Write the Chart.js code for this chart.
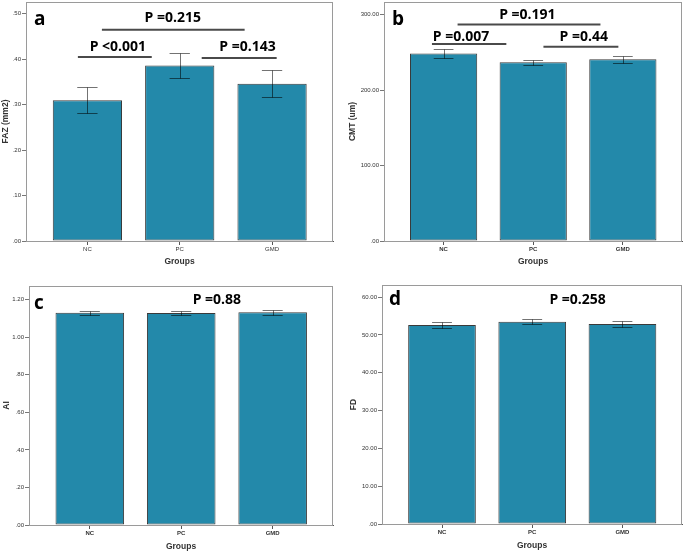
<!DOCTYPE html>
<html>
<head>
<meta charset="utf-8">
<script src="https://cdn.jsdelivr.net/npm/chart.js@4/dist/chart.umd.min.js"></script>
<style>
  body { margin: 0; background: #fff; }
  .panel { position: absolute; }
</style>
</head>
<body>
<div class="panel" style="left:0;top:0"><canvas id="chartA" width="340" height="270"></canvas></div>
<div class="panel" style="left:340px;top:0"><canvas id="chartB" width="345" height="270"></canvas></div>
<div class="panel" style="left:0;top:270px"><canvas id="chartC" width="340" height="283"></canvas></div>
<div class="panel" style="left:340px;top:270px"><canvas id="chartD" width="345" height="283"></canvas></div>
<script>
// groups and values (mean, error bar half-length)
const groups = ["NC", "PC", "GMD"];

const fazMean = [0.310, 0.386, 0.346];
const fazErr = [0.028, 0.027, 0.030];
const cmtMean = [248.6, 236.7, 240.7];
const cmtErr = [6.4, 3.8, 4.7];
const aiMean = [1.131, 1.129, 1.133];
const aiErr = [0.011, 0.010, 0.012];
const fdMean = [52.6, 53.5, 52.9];
const fdErr = [0.75, 0.70, 0.80];

const fazTicks = [0, 0.1, 0.2, 0.3, 0.4, 0.5];
const cmtTicks = [0, 100, 200, 300];
const aiTicks = [0, 0.2, 0.4, 0.6, 0.8, 1.0, 1.2];
const fdTicks = [0, 10, 20, 30, 40, 50, 60];

const fazP = ["P <0.001", "P =0.215", "P =0.143"];
const cmtP = ["P =0.007", "P =0.191", "P =0.44"];
const aiP = ["P =0.88"];
const fdP = ["P =0.258"];

const barColor = "#2389aa";

// SPSS style labels: .50, 1.00, 300.00
function spss(v) {
  const s = v.toFixed(2);
  return s.startsWith("0") ? s.slice(1) : s;
}

const panelPlugin = {
  id: "panelExtras",
  beforeDatasetsDraw(chart, args, opts) {
    const a = chart.chartArea, ctx = chart.ctx;
    ctx.save();
    ctx.strokeStyle = "#9a9a9a";
    ctx.lineWidth = 1;
    ctx.strokeRect(Math.round(a.left) + 0.5, Math.round(a.top) + 0.5,
      Math.round(a.right - a.left) - 1, Math.round(a.bottom - a.top));
    ctx.restore();
  },
  afterDatasetsDraw(chart, args, opts) {
    const ctx = chart.ctx, xs = chart.scales.x, ys = chart.scales.y, a = chart.chartArea;
    ctx.save();
    // error bars
    ctx.strokeStyle = "rgba(0,0,0,0.55)";
    ctx.lineWidth = 1;
    opts.mean.forEach((m, i) => {
      const x = Math.round(xs.getPixelForValue(i)) + 0.5;
      const y1 = Math.round(ys.getPixelForValue(m + opts.err[i])) + 0.5;
      const y2 = Math.round(ys.getPixelForValue(m - opts.err[i])) + 0.5;
      const cl = xs.getPixelForValue(i - 0.11), cr = xs.getPixelForValue(i + 0.11);
      ctx.beginPath();
      ctx.moveTo(x, y1); ctx.lineTo(x, y2);
      ctx.moveTo(cl, y1); ctx.lineTo(cr, y1);
      ctx.moveTo(cl, y2); ctx.lineTo(cr, y2);
      ctx.stroke();
    });
    // comparison brackets
    ctx.strokeStyle = "#4a4a4a";
    ctx.lineWidth = 2;
    ctx.fillStyle = "#000";
    ctx.font = "bold 14px 'Open Sans'";
    ctx.textAlign = "center";
    ctx.textBaseline = "middle";
    opts.marks.forEach((b, i) => {
      if (b.x1 !== undefined) {
        const y = ys.getPixelForValue(b.y);
        ctx.beginPath();
        ctx.moveTo(xs.getPixelForValue(b.x1), y);
        ctx.lineTo(xs.getPixelForValue(b.x2), y);
        ctx.stroke();
      }
      ctx.fillText(opts.pLabels[i], xs.getPixelForValue(b.tx), ys.getPixelForValue(b.ty));
    });
    // panel letter
    ctx.textAlign = "left";
    ctx.textBaseline = "alphabetic";
    ctx.font = "bold 19px 'Open Sans'";
    ctx.fillText(opts.letter, a.left + opts.letterDx, a.top + opts.letterDy);
    ctx.restore();
  }
};

function makePanel(id, p) {
  return new Chart(document.getElementById(id), {
    type: "bar",
    data: {
      datasets: [{
        data: p.mean.map((v, i) => ({ x: i, y: v })),
        backgroundColor: barColor,
        borderColor: "#3a3a3a",
        borderWidth: 1,
        borderSkipped: false,
        barPercentage: 0.75,
        categoryPercentage: 1
      }]
    },
    plugins: [panelPlugin],
    options: {
      responsive: false,
      animation: false,
      layout: { padding: { top: p.padTop, right: p.padRight, left: 0, bottom: 0 } },
      plugins: {
        legend: { display: false },
        tooltip: { enabled: false },
        panelExtras: {
          mean: p.mean, err: p.err, pLabels: p.pLabels, marks: p.marks,
          letter: p.letter, letterDx: p.letterDx, letterDy: p.letterDy
        }
      },
      scales: {
        x: {
          type: "linear",
          offset: false,
          min: -0.665,
          max: 2.66,
          afterBuildTicks: s => { s.ticks = groups.map((g, i) => ({ value: i })); },
          afterFit: s => { s.height = p.xHeight; s.paddingLeft = 0; s.paddingRight = 0; },
          grid: {
            offset: false,
            drawOnChartArea: false,
            tickLength: 4,
            color: c => (c.tick && Number.isInteger(c.tick.value)) ? "#555" : "rgba(0,0,0,0)"
          },
          border: { color: "#555" },
          ticks: {
            padding: 1,
            autoSkip: false,
            maxRotation: 0,
            color: "#333",
            font: { family: "'Liberation Sans'", size: 6, weight: p.xBold ? "bold" : "normal" },
            callback: v => groups[v]
          },
          title: {
            display: true,
            text: "Groups",
            color: "#333",
            padding: { top: 0, bottom: p.xTitlePad },
            font: { family: "'Liberation Sans'", size: 8.5, weight: "bold" }
          }
        },
        y: {
          min: 0,
          max: p.yMax,
          afterBuildTicks: s => { s.ticks = p.ticks.map(v => ({ value: v })); },
          afterFit: s => { s.width = p.yWidth; s.paddingTop = 0; s.paddingBottom = 0; },
          grid: { drawOnChartArea: false, tickLength: 4, color: "#777" },
          border: { color: "#777" },
          ticks: {
            padding: 1,
            color: "#333",
            font: { family: "'Liberation Sans'", size: 6 },
            callback: v => spss(v)
          },
          title: {
            display: true,
            text: p.yTitle,
            color: "#333",
            padding: { top: p.yTitlePad, bottom: 0 },
            font: { family: "'Liberation Sans'", size: 8.5, weight: "bold" }
          }
        }
      }
    }
  });
}

makePanel("chartA", {
  letter: "a", letterDx: 8, letterDy: 23,
  yTitle: "FAZ (mm2)", mean: fazMean, err: fazErr, ticks: fazTicks, yMax: 0.526,
  pLabels: fazP,
  marks: [
    { x1: -0.103, x2: 0.697, y: 0.405, tx: 0.33, ty: 0.428 },
    { x1: 0.157, x2: 1.703, y: 0.465, tx: 0.925, ty: 0.491 },
    { x1: 1.238, x2: 2.05, y: 0.403, tx: 1.735, ty: 0.427 }
  ],
  yWidth: 26, xHeight: 29, padTop: 2, padRight: 7, yTitlePad: 1, xTitlePad: 3, xBold: false
});

makePanel("chartB", {
  letter: "b", letterDx: 8, letterDy: 23,
  yTitle: "CMT (um)", mean: cmtMean, err: cmtErr, ticks: cmtTicks, yMax: 316.7,
  pLabels: cmtP,
  marks: [
    { x1: -0.13, x2: 0.70, y: 260.9, tx: 0.194, ty: 270.9 },
    { x1: 0.156, x2: 1.75, y: 287, tx: 0.935, ty: 299.9 },
    { x1: 1.114, x2: 1.95, y: 257.5, tx: 1.563, ty: 270.9 }
  ],
  yWidth: 44, xHeight: 29, padTop: 2, padRight: 3, yTitlePad: 8, xTitlePad: 3, xBold: true
});

makePanel("chartC", {
  letter: "c", letterDx: 5, letterDy: 23,
  yTitle: "AI", mean: aiMean, err: aiErr, ticks: aiTicks, yMax: 1.273,
  pLabels: aiP,
  marks: [{ tx: 1.39, ty: 1.197 }],
  yWidth: 29, xHeight: 28, padTop: 16, padRight: 7, yTitlePad: 1.5, xTitlePad: 1, xBold: true
});

makePanel("chartD", {
  letter: "d", letterDx: 7, letterDy: 20,
  yTitle: "FD", mean: fdMean, err: fdErr, ticks: fdTicks, yMax: 63.2,
  pLabels: fdP,
  marks: [{ tx: 1.503, ty: 59.1 }],
  yWidth: 42, xHeight: 29, padTop: 15, padRight: 3, yTitlePad: 8.5, xTitlePad: 2.3, xBold: true
});
</script>
</body>
</html>
